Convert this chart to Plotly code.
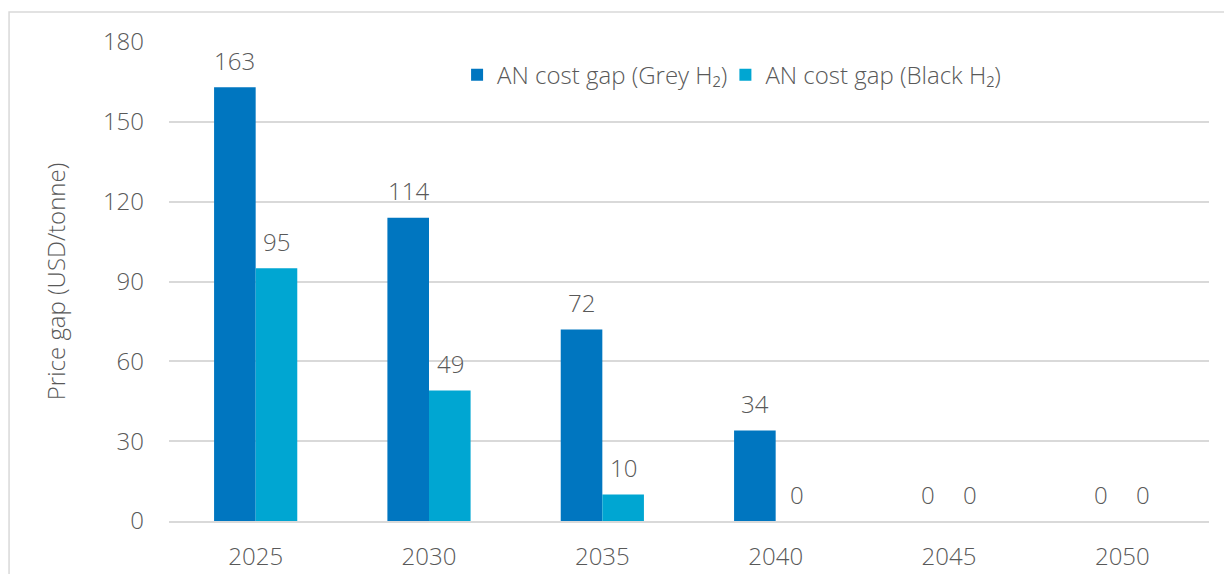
import plotly.graph_objects as go

years = ["2025", "2030", "2035", "2040", "2045", "2050"]
grey_gap = [163, 114, 72, 34, 0, 0]
black_gap = [95, 49, 10, 0, 0, 0]
y_ticks = [0, 30, 60, 90, 120, 150, 180]

DARK = "#0076C0"
LIGHT = "#00A6D2"
TEXT = "#595959"
GRID = "#D9D9D9"
FONT = dict(family="Open Sans", size=24, color=TEXT, weight=300)

fig = go.Figure()
fig.add_bar(x=years, y=grey_gap, name="AN cost gap (Grey H\u2082)",
            marker=dict(color=DARK, line=dict(width=0)), legend="legend")
fig.add_bar(x=years, y=black_gap, name="AN cost gap (Black H\u2082)",
            marker=dict(color=LIGHT, line=dict(width=0)), legend="legend2")

# value labels above each bar (x given as category index)
for vals, shift in ((grey_gap, -21), (black_gap, 21)):
    for i, v in enumerate(vals):
        fig.add_annotation(x=i, y=v, text=str(v), showarrow=False,
                           xshift=shift, yshift=27, yanchor="middle",
                           font=FONT)

# outer frame
fig.add_shape(type="rect", xref="paper", yref="paper",
              x0=-0.1538, x1=1.05, y0=-0.2, y1=1.0626,
              line=dict(color=GRID, width=1.5), layer="below")

legend_style = dict(orientation="h", y=0.931, xanchor="left",
                    yanchor="middle", font=FONT, bgcolor="rgba(0,0,0,0)")

fig.update_layout(
    width=1224, height=574,
    margin=dict(l=169, r=15, t=42, b=53, autoexpand=False),
    paper_bgcolor="white", plot_bgcolor="white",
    barmode="group", bargap=0.52, bargroupgap=0,
    font=FONT,
    showlegend=True,
    legend=dict(x=0.277, **legend_style),
    legend2=dict(x=0.535, **legend_style),
    xaxis=dict(type="category", range=[-0.5, 5.5], showgrid=False,
               showline=True, linecolor=GRID, linewidth=2, ticks="",
               tickfont=FONT, ticklabelstandoff=13, automargin=False),
    yaxis=dict(range=[0, 180], tickvals=y_ticks, showgrid=True,
               gridcolor=GRID, gridwidth=1.5, zeroline=False,
               showline=False, ticks="", tickfont=FONT,
               ticklabelstandoff=24, automargin=False,
               title=dict(text="Price gap (USD/tonne)", font=FONT, standoff=30)),
)

fig.write_html("out.html")
